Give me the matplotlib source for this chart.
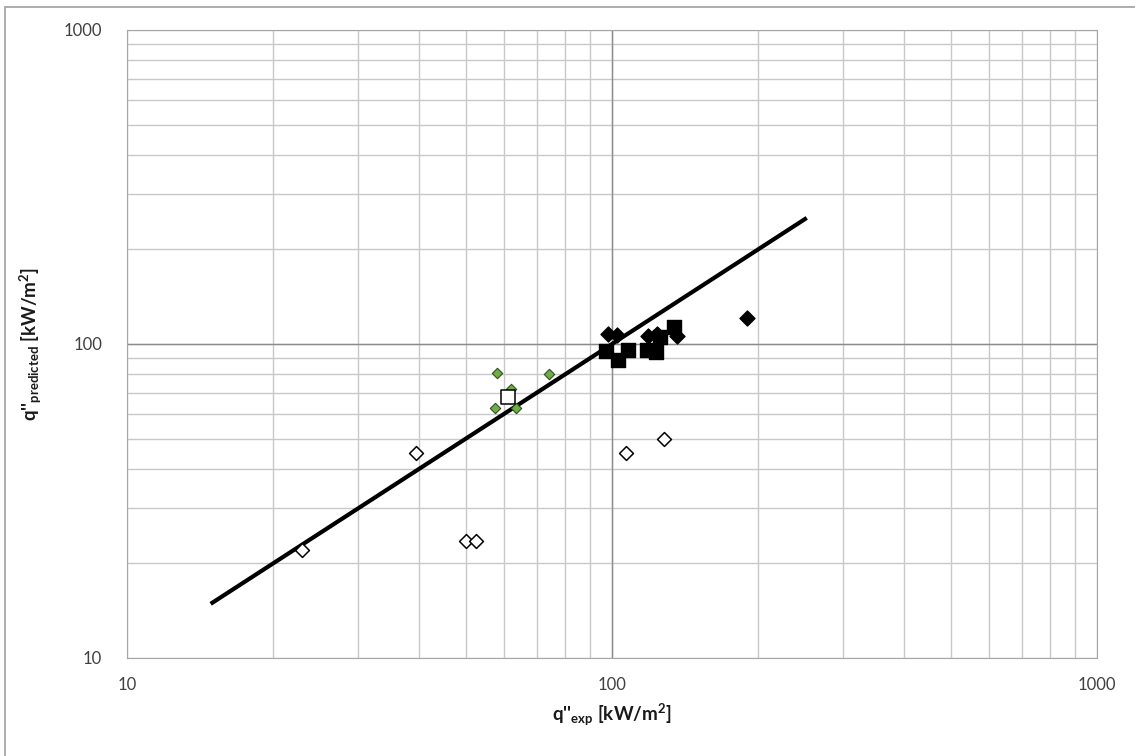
import matplotlib
matplotlib.use("Agg")
import matplotlib.pyplot as plt
from matplotlib.patches import Rectangle
from matplotlib.ticker import FixedLocator, NullFormatter

plt.rcParams['font.family'] = ['Lato', 'DejaVu Sans']
plt.rcParams['mathtext.fontset'] = 'custom'
plt.rcParams['mathtext.bf'] = 'Lato:bold'
plt.rcParams['mathtext.rm'] = 'Lato:bold'
plt.rcParams['mathtext.default'] = 'bf'

# data
open_dia_x = [23, 39.5, 50, 52.5, 107, 128]
open_dia_y = [22, 45, 23.6, 23.6, 45, 50]

green_x = [58, 74, 62, 57.5, 63.5]
green_y = [81, 80, 72, 62.5, 62.5]

open_sq_x = [61]
open_sq_y = [68]

black_dia_x = [98, 102.5, 118.5, 124, 136, 190]
black_dia_y = [108, 107, 106, 108, 106, 121]

black_sq_x = [97, 103, 108, 118, 123, 125.5, 134]
black_sq_y = [95, 89, 96, 96, 94, 105.5, 113]

line_x = [15, 250]
line_y = [15, 250]

fig = plt.figure(figsize=(11.35, 7.56), dpi=100)
ax = fig.add_axes([127/1135, 98/756, 970/1135, 628/756])

# outer chart border
fig.patches.append(Rectangle((5/1135, -0.01), 1.1, (749/756) + 0.01, transform=fig.transFigure,
                             fill=False, edgecolor='#a0a0a0', linewidth=1.2))

ax.set_xscale('log')
ax.set_yscale('log')
ax.set_xlim(10, 1000)
ax.set_ylim(10, 1000)

minor = [m * d for d in (10, 100) for m in range(2, 10)]
ax.xaxis.set_minor_locator(FixedLocator(minor))
ax.yaxis.set_minor_locator(FixedLocator(minor))
ax.xaxis.set_minor_formatter(NullFormatter())
ax.yaxis.set_minor_formatter(NullFormatter())
ax.set_xticks([10, 100, 1000])
ax.set_xticklabels(['10', '100', '1000'])
ax.set_yticks([10, 100, 1000])
ax.set_yticklabels(['10', '100', '1000'])
ax.tick_params(which='both', length=0, labelsize=12, colors='#404040', pad=14)
ax.tick_params(axis='y', pad=18)

ax.grid(which='minor', color='#c8c8c8', linewidth=1.0)
ax.grid(which='major', color='#c8c8c8', linewidth=1.0)
ax.axvline(100, color='#8c8c8c', linewidth=1.0, zorder=1)
ax.axhline(100, color='#8c8c8c', linewidth=1.0, zorder=1)
ax.set_axisbelow(True)
for s in ax.spines.values():
    s.set_color('#a6a6a6')

ax.plot(line_x, line_y, color='black', linewidth=3, zorder=2)

ax.scatter(open_dia_x, open_dia_y, marker='D', s=50, facecolor='white', edgecolor='black',
           linewidth=1.1, zorder=3)
ax.scatter(green_x, green_y, marker='D', s=28, facecolor='#70ad47', edgecolor='#2f4f1f',
           linewidth=0.8, zorder=3)
ax.scatter(open_sq_x, open_sq_y, marker='s', s=100, facecolor='white', edgecolor='black',
           linewidth=1.1, zorder=3)
ax.scatter(black_dia_x, black_dia_y, marker='D', s=58, facecolor='black', edgecolor='black',
           zorder=4)
ax.scatter(black_sq_x, black_sq_y, marker='s', s=105, facecolor='black', edgecolor='black',
           zorder=4)

ax.set_xlabel(r"q''$_{exp}$ [kW/m$^{2}$]", fontsize=13.5, fontweight='bold', color='#1a1a1a', labelpad=6)
ax.set_ylabel(r"q''$_{predicted}$ [kW/m$^{2}$]", fontsize=13.5, fontweight='bold', color='#1a1a1a', labelpad=14)

fig.savefig('out.png', dpi=100)
